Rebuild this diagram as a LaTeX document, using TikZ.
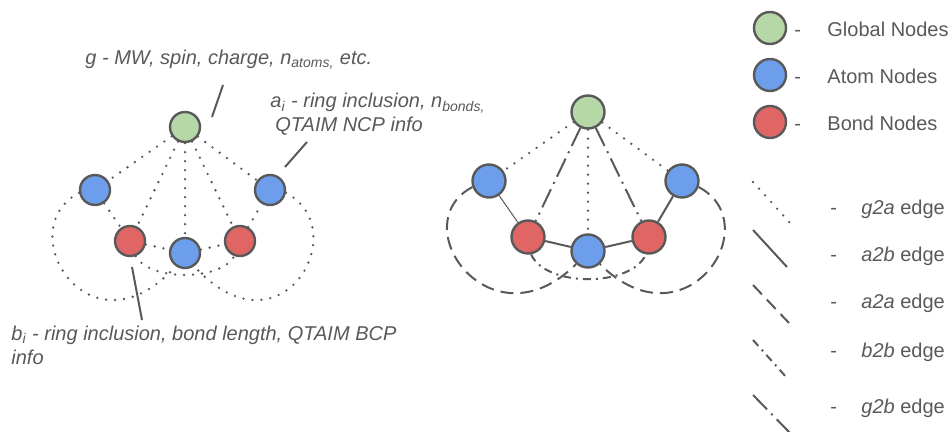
\documentclass[tikz,border=0pt]{standalone}
\usepackage{fontspec}
\setmainfont{Liberation Sans}
\definecolor{edgegray}{HTML}{595959}
\definecolor{globalgreen}{HTML}{B6D7A8}
\definecolor{atomblue}{HTML}{6D9EEB}
\definecolor{bondred}{HTML}{E06666}

\begin{document}
\begin{tikzpicture}[x=0.5pt,y=-0.5pt,
        vertex/.style={circle,draw=edgegray,line width=1.2pt,minimum size=15pt,inner sep=0pt},
        glob/.style={vertex,fill=globalgreen},
        atom/.style={vertex,fill=atomblue},
        bond/.style={vertex,fill=bondred},
        big/.style={minimum size=16.5pt},
        gtwoa/.style={draw=edgegray,line width=1.3pt,line cap=round,dash pattern=on 0pt off 4.5pt},
        atwob/.style={draw=edgegray,line width=1pt},
        atwoa/.style={draw=edgegray,line width=1pt,dash pattern=on 6.5pt off 3.5pt},
        btwob/.style={draw=edgegray,line width=1pt,dash pattern=on 4pt off 2.5pt on 1pt off 2.5pt},
        gtwob/.style={draw=edgegray,line width=1pt,dash pattern=on 10pt off 3pt on 1pt off 3pt},
        leader/.style={draw=edgegray,line width=1pt},
        note/.style={text=edgegray,font=\itshape,inner sep=0pt,anchor=base west,align=left},
        key/.style={text=edgegray,inner sep=0pt,anchor=base west}]
        \useasboundingbox (0,0) rectangle (951,432);

        % feature graph
        \node [glob] (G1) at (185,127) {};
        \node [atom] (A1L) at (95,190) {};
        \node [atom] (A1R) at (270,190) {};
        \node [bond] (B1L) at (130,241) {};
        \node [atom] (A1M) at (185,253) {};
        \node [bond] (B1R) at (240,241) {};
        \foreach \n in {A1L,B1L,A1M,B1R,A1R}
            \draw [gtwoa] (G1) -- (\n);
        \foreach \p/\q in {A1L/B1L,B1L/A1M,A1M/B1R,B1R/A1R}
            \draw [gtwoa] (\p) -- (\q);
        \draw [gtwoa] (A1L.190) .. controls +(-70,37) and +(-86,95) .. (A1M.235);
        \draw [gtwoa] (A1R.350) .. controls +(70,37) and +(86,95) .. (A1M.305);
        \draw [gtwoa] (B1L.290) .. controls +(15,25) and +(-15,25) .. (B1R.250);

        % notes (base anchor sits on the last line)
        \coordinate (G1tip) at (212,117);
        \coordinate (G1end) at (223,85);
        \coordinate (A1tip) at (285,167);
        \coordinate (A1end) at (307,142);
        \coordinate (B1tip) at (132,267);
        \coordinate (B1end) at (142,320);
        \draw [leader] (G1tip) -- (G1end);
        \draw [leader] (A1tip) -- (A1end);
        \draw [leader] (B1tip) -- (B1end);
        \node [note] (G1note) at (85,65) {g - MW, spin, charge, n\textsubscript{atoms,} etc.};
        \node [note] (A1note) at (270,132) {a\textsubscript{i} - ring inclusion, n\textsubscript{bonds,}\\\hspace{2.5pt}QTAIM NCP info};
        \node [note] (B1note) at (11,364) {b\textsubscript{i} - ring inclusion, bond length, QTAIM BCP\\info};

        % edge types
        \node [glob,big] (G2) at (588,112) {};
        \node [atom,big] (A2L) at (489,181) {};
        \node [atom,big] (A2R) at (682,181) {};
        \node [bond,big] (B2L) at (528,237) {};
        \node [atom,big] (A2M) at (588,251) {};
        \node [bond,big] (B2R) at (649,237) {};
        \foreach \n in {A2L,A2M,A2R}
            \draw [gtwoa] (G2) -- (\n);
        \foreach \n in {B2L,B2R}
            \draw [gtwob] (G2) -- (\n);
        \draw [atwob,line width=0.5pt] (A2L) -- (B2L);
        \foreach \p/\q in {B2L/A2M,A2M/B2R,B2R/A2R}
            \draw [atwob] (\p) -- (\q);
        \draw [atwoa] (A2L.200) .. controls +(-70,37) and +(-86,85) .. (A2M.228);
        \draw [atwoa] (A2R.340) .. controls +(70,37) and +(86,85) .. (A2M.312);
        \draw [btwob] (B2L.280) .. controls +(15,33) and +(-15,33) .. (B2R.260);

        % legend
        \node [glob,minimum size=16pt] (KeyGlobal) at (770,28) {};
        \node [atom,minimum size=16pt] (KeyAtom) at (770,75) {};
        \node [bond,minimum size=16pt] (KeyBond) at (770,122) {};
        \foreach \y/\t in {37/Global Nodes,84/Atom Nodes,131/Bond Nodes} {
            \node [key] at (794,\y) {-};
            \node [key] at (827,\y) {\t};
        }

        \coordinate (KeyGtwoaA) at (753,182);
        \coordinate (KeyGtwoaB) at (790,223);
        \coordinate (KeyAtwobA) at (753,230);
        \coordinate (KeyAtwobB) at (787,267);
        \coordinate (KeyAtwoaA) at (753,285);
        \coordinate (KeyAtwoaB) at (789,323);
        \coordinate (KeyBtwobA) at (753,340);
        \coordinate (KeyBtwobB) at (787,378);
        \coordinate (KeyGtwobA) at (753,395);
        \coordinate (KeyGtwobB) at (791,434);
        \draw [gtwoa] (KeyGtwoaA) -- (KeyGtwoaB);
        \draw [atwob] (KeyAtwobA) -- (KeyAtwobB);
        \draw [atwoa] (KeyAtwoaA) -- (KeyAtwoaB);
        \draw [btwob] (KeyBtwobA) -- (KeyBtwobB);
        \draw [gtwob] (KeyGtwobA) -- (KeyGtwobB);
        \foreach \y/\t in {215/g2a,262/a2b,308/a2a,357/b2b,413/g2b} {
            \node [key] at (830,\y) {-};
            \node [key] at (861,\y) {\textit{\t} edge};
        }
    \end{tikzpicture}
\end{document}
